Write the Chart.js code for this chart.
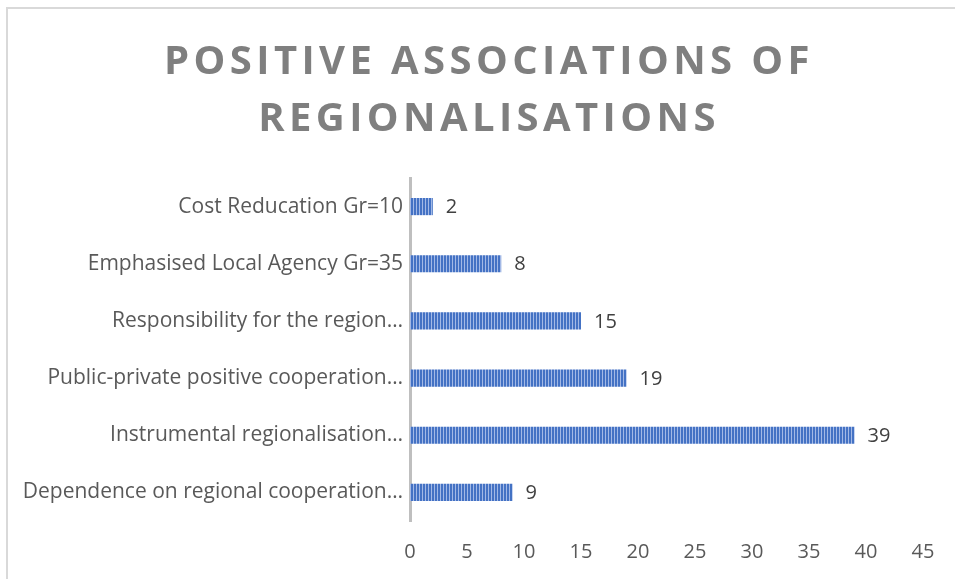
<!DOCTYPE html>
<html><head><meta charset="utf-8">
<script src="https://cdn.jsdelivr.net/npm/chart.js@4.4.1/dist/chart.umd.min.js"></script>
<style>html,body{margin:0;padding:0;background:#fff;}#wrap{position:relative;width:955px;height:579px;}</style>
</head><body><div id="wrap"><canvas id="c" width="955" height="579"></canvas></div>
<script>
const categories = [
  "Cost Reducation Gr=10",
  "Emphasised Local Agency Gr=35",
  "Responsibility for the region…",
  "Public-private positive cooperation…",
  "Instrumental regionalisation…",
  "Dependence on regional cooperation…"
];
const values = [2, 8, 15, 19, 39, 9];
const titleLines = ["POSITIVE ASSOCIATIONS OF", "REGIONALISATIONS"];
const xTickMax = 45;
const xTickStep = 5;

function makePattern() {
  const p = document.createElement('canvas');
  p.width = 3; p.height = 4;
  const g = p.getContext('2d');
  g.fillStyle = '#4472c4'; g.fillRect(0, 0, 3, 4);
  g.fillStyle = '#a3b9e6'; g.fillRect(2, 0, 1, 4);
  return g.createPattern(p, 'repeat');
}

const ctx = document.getElementById('c').getContext('2d');
const pattern = makePattern();

const framePlugin = {
  id: 'frame',
  beforeDraw(chart) {
    const c = chart.ctx;
    c.save();
    c.fillStyle = '#fff';
    c.fillRect(0, 0, chart.width, chart.height);
    c.strokeStyle = '#d9d9d9';
    c.lineWidth = 2;
    c.beginPath();
    c.moveTo(7, chart.height); c.lineTo(7, 8); c.lineTo(chart.width, 8);
    c.stroke();
    // title
    c.fillStyle = '#7f7f7f';
    c.font = 'bold 40px "Open Sans"';
    c.textAlign = 'center';
    c.textBaseline = 'middle';
    try { c.letterSpacing = '4.4px'; } catch(e) {}
    c.fillText(titleLines[0], 489, 63);
    c.fillText(titleLines[1], 489, 120);
    c.restore();
  }
};

const labelPlugin = {
  id: 'vals',
  afterDatasetsDraw(chart) {
    const c = chart.ctx;
    const meta = chart.getDatasetMeta(0);
    c.save();
    c.fillStyle = '#404040';
    c.font = '20px "Open Sans"';
    c.textAlign = 'left';
    c.textBaseline = 'middle';
    meta.data.forEach((bar, i) => {
      c.fillText(String(values[i]), bar.x + 13, bar.y + 1);
    });
    c.restore();
  }
};

new Chart(ctx, {
  type: 'bar',
  data: {
    labels: categories,
    datasets: [{
      data: values,
      backgroundColor: pattern,
      borderWidth: 0,
      categoryPercentage: 1,
      barPercentage: 0.3
    }]
  },
  options: {
    indexAxis: 'y',
    responsive: false,
    animation: false,
    layout: { padding: { top: 178, right: 32, left: 0, bottom: 0 } },
    plugins: { legend: { display: false }, title: { display: false }, tooltip: { enabled: false } },
    scales: {
      x: {
        min: 0, max: xTickMax,
        ticks: { stepSize: xTickStep, color: '#595959', font: { family: 'Open Sans', size: 20 }, padding: 11 },
        grid: { display: false },
        border: { display: false },
        afterFit(s) { s.height = 58; }
      },
      y: {
        ticks: { color: '#595959', font: { family: 'Open Sans', size: 21 }, padding: 7 },
        grid: { display: false, drawTicks: false },
        border: { display: true, color: '#bfbfbf', width: 3 },
        afterFit(s) { s.width = 410; }
      }
    }
  },
  plugins: [framePlugin, labelPlugin]
});
</script></body></html>
